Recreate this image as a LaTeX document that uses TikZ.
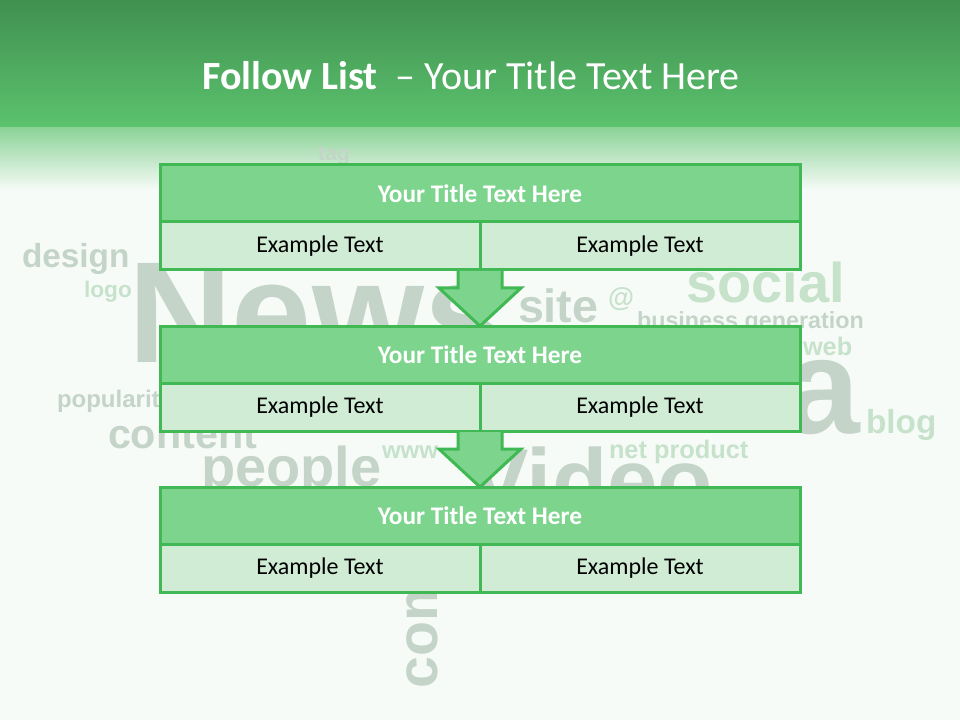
\documentclass[tikz,border=0pt]{standalone}
\usepackage{fontspec}
\setmainfont{Carlito}
\newfontfamily\cloudfont{Liberation Sans}
\usetikzlibrary{positioning,calc}
\definecolor{hdrtop}{RGB}{64,144,80}
\definecolor{hdrbot}{RGB}{92,195,110}
\definecolor{fadetop}{RGB}{140,211,152}
\definecolor{pagebg}{RGB}{246,251,247}
\definecolor{rimgreen}{RGB}{64,185,84}
\definecolor{headfill}{RGB}{125,212,141}
\definecolor{cellfill}{RGB}{208,236,213}
\definecolor{cloudgray}{RGB}{197,212,200}
\definecolor{cloudgreen}{RGB}{198,226,203}
\newcommand{\cloudsize}[1]{\fontsize{#1}{#1}\selectfont}

\begin{document}
\begin{tikzpicture}[x=0.75pt,y=-0.75pt,
  word/.style={anchor=base west,inner sep=0pt,outer sep=0pt,text=cloudgray,font=\cloudfont\bfseries\cloudsize{#1}},
  headrow/.style={draw=rimgreen,line width=2.25pt,fill=headfill,minimum width=480pt,minimum height=42.75pt,
    inner sep=0pt,outer sep=0pt,text=white,font=\fontsize{19}{23}\selectfont\bfseries},
  cellrow/.style={draw=rimgreen,line width=2.25pt,fill=cellfill,minimum width=240pt,minimum height=36pt,
    inner sep=0pt,outer sep=0pt,font=\fontsize{18}{22}\selectfont},
  blockarrow/.style={draw=rimgreen,line width=2.25pt,fill=headfill,line join=miter}]
\useasboundingbox (0,0) rectangle (960,720);
\fill[pagebg] (0,0) rectangle (960,720);
\shade[top color=hdrtop,bottom color=hdrbot] (0,0) rectangle (960,128);
\shade[top color=fadetop,bottom color=pagebg] (0,128) rectangle (960,190);
% word cloud behind the list
\node[word=108] (wnews) at (128,362) {News};
\node[word=25] (wdesign) at (22,268) {design};
\node[word=17,text=cloudgreen] (wlogo) at (84,297) {logo};
\node[word=35] (wsite) at (518,322) {site};
\node[word=20,text=cloudgreen] (wat) at (608,306) {@};
\node[word=42,text=cloudgreen] (wsocial) at (686,302) {social};
\node[word=17.5] (wbusiness) at (637,329) {business generation};
\node[word=19,text=cloudgreen] (wweb) at (803,355) {web};
\node[word=102,anchor=base east] (wmedia) at (860,433) {a};
\node[word=25,text=cloudgreen] (wblog) at (866,433) {blog};
\node[word=18] (wpopularity) at (57,407) {popularity};
\node[word=31] (wcontent) at (108,448) {content};
\node[word=18,text=cloudgreen] (wwww) at (382,458) {www};
\node[word=42] (wpeople) at (201,486) {people};
\node[word=68] (wvideo) at (468,512) {Video};
\node[word=19,text=cloudgreen] (wnet) at (609,458) {net product};
\node[word=43,rotate=90] (wcom) at (437,688) {com};
\node[word=16] (wtag) at (318,161) {tag};
% slide title
\node[text=white,font=\fontsize{30}{36}\selectfont] (slidetitle) at (471,76)
  {\textbf{Follow List}\ \ – Your Title Text Here};
% the three list blocks
\node[headrow] (t1) at (480,193.5) {Your Title Text Here};
\node[cellrow,below right=0pt of t1.south west] (l1) {Example Text};
\node[cellrow,below left=0pt of t1.south east] (r1) {Example Text};
\node[headrow,below=42pt of l1.south east] (t2) {Your Title Text Here};
\node[cellrow,below right=0pt of t2.south west] (l2) {Example Text};
\node[cellrow,below left=0pt of t2.south east] (r2) {Example Text};
\node[headrow,below=42pt of l2.south east] (t3) {Your Title Text Here};
\node[cellrow,below right=0pt of t3.south west] (l3) {Example Text};
\node[cellrow,below left=0pt of t3.south east] (r3) {Example Text};
% arrows between blocks
\draw[blockarrow] ($(l1.south east)+(-22,1)$) -- ($(t2.north)+(-22,-38)$) -- ($(t2.north)+(-41,-38)$)
  -- (t2.north) -- ($(t2.north)+(41,-38)$) -- ($(t2.north)+(22,-38)$) -- ($(l1.south east)+(22,1)$);
\draw[blockarrow] ($(l2.south east)+(-22,1)$) -- ($(t3.north)+(-22,-38)$) -- ($(t3.north)+(-41,-38)$)
  -- (t3.north) -- ($(t3.north)+(41,-38)$) -- ($(t3.north)+(22,-38)$) -- ($(l2.south east)+(22,1)$);
\end{tikzpicture}
\end{document}
